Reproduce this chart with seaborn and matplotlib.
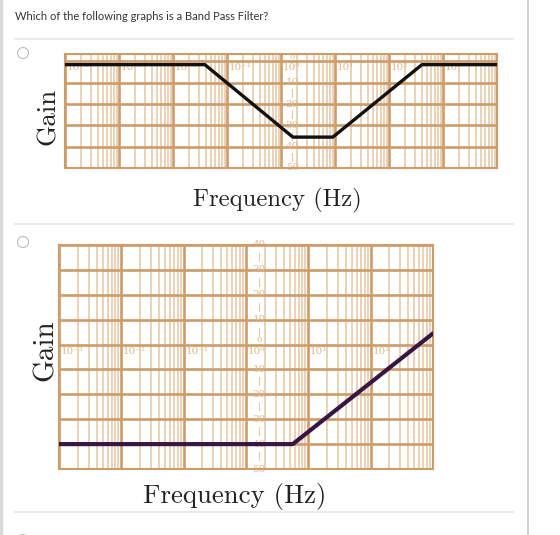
import numpy as np
import pandas as pd
import matplotlib
matplotlib.use("Agg")
import matplotlib.pyplot as plt
import seaborn as sns
from matplotlib.ticker import LogLocator, MultipleLocator, NullFormatter
from matplotlib.lines import Line2D
from matplotlib.patches import Ellipse

# ---------------- data ----------------
question = "Which of the following graphs is a Band Pass Filter?"

# option 1 (notch shaped response)
top_freq = [1e-4, 10 ** -1.41, 10 ** 0.22, 10 ** 0.96, 10 ** 2.61, 1e4]
top_gain = [-1.5, -1.5, -35.5, -35.5, -1.5, -1.5]
top_decades = [1e-4, 1e-3, 1e-2, 1e-1, 1e0, 1e1, 1e2, 1e3]
top_decade_labels = ["10⁻⁴", "10⁻³", "10⁻²", "10⁻¹", "10⁰", "10¹", "10²", "10³"]
top_db_ticks = [0, -10, -20, -30, -40, -50]

# option 2 (high pass shaped response)
bot_freq = [1e-3, 10 ** 0.75, 1e3]
bot_gain = [-40, -40, 4.5]
bot_decades = [1e-3, 1e-2, 1e-1, 1e0, 1e1, 1e2]
bot_decade_labels = ["10⁻³", "10⁻²", "10⁻¹", "10⁰", "10¹", "10²"]
bot_db_ticks = [40, 30, 20, 10, 0, -10, -20, -30, -40, -50]

y_label = "Gain"
x_label = "Frequency (Hz)"

# ---------------- style ----------------
sns.set_theme(style="white")
plt.rcParams["font.family"] = ["DejaVu Sans"]

MAJ = "#cd9c69"
MIN = "#e8cbad"
LBL = "#e2b68a"

W, H = 560, 535
fig = plt.figure(figsize=(W / 100, H / 100), dpi=100)
fig.patch.set_facecolor("white")


def fx(px):
    return px / W


def fy(py):
    return 1 - py / H


def make_axes(l, r, t, b):
    return fig.add_axes([fx(l), fy(b), fx(r - l), (b - t) / H])


def style_grid(ax, xlim, ylim, decades, dlabels, dbticks):
    ax.set_xscale("log")
    ax.set_xlim(*xlim)
    ax.set_ylim(*ylim)
    ax.xaxis.set_major_locator(LogLocator(base=10, numticks=30))
    ax.xaxis.set_minor_locator(LogLocator(base=10, subs=np.arange(2, 10), numticks=30))
    ax.xaxis.set_minor_formatter(NullFormatter())
    ax.yaxis.set_major_locator(MultipleLocator(10))
    ax.grid(which="minor", axis="x", color=MIN, lw=1.2)
    ax.grid(which="major", color=MAJ, lw=1.9)
    ax.set_axisbelow(True)
    ax.tick_params(which="both", length=0, labelbottom=False, labelleft=False)
    for s in ax.spines.values():
        s.set_color(MAJ)
        s.set_linewidth(1.5)
    for d, lab in zip(decades, dlabels):
        ax.text(d * 1.07, -0.8, lab, ha="left", va="top", color=LBL,
                fontsize=7.5, family="DejaVu Serif", zorder=1)
    xl = 10 ** 0.21
    for v in dbticks:
        if v == 0:
            ax.text(xl, 0.3, "0", ha="center", va="bottom", color=LBL,
                    fontsize=6, family="DejaVu Serif", zorder=1)
        else:
            ax.text(xl, v, f"{abs(v)}", ha="center", va="center", color=LBL,
                    fontsize=7.5, family="DejaVu Serif", zorder=1)
    for v in dbticks[:-1]:
        if v - 5 == -5:
            continue
        ax.text(xl, v - 5, "|", ha="center", va="center", color=LBL,
                fontsize=6, zorder=1)
    ax.set_xlabel("")
    ax.set_ylabel("")


# ---------- chart 1 ----------
ax1 = make_axes(65, 497, 54, 168)
style_grid(ax1, (1e-4, 1e4), (-50, 3.5), top_decades, top_decade_labels, top_db_ticks)
df1 = pd.DataFrame({"freq": top_freq, "gain": top_gain})
sns.lineplot(data=df1, x="freq", y="gain", ax=ax1, color="#111111", lw=2.4,
             sort=False, estimator=None, zorder=5)
ax1.set_xlabel("")
ax1.set_ylabel("")

# ---------- chart 2 ----------
ax2 = make_axes(59, 433, 245, 469)
style_grid(ax2, (1e-3, 1e3), (-50, 40), bot_decades, bot_decade_labels, bot_db_ticks)
df2 = pd.DataFrame({"freq": bot_freq, "gain": bot_gain})
sns.lineplot(data=df2, x="freq", y="gain", ax=ax2, color="#3a1542", lw=3.0,
             sort=False, estimator=None, zorder=5)
ax2.set_xlabel("")
ax2.set_ylabel("")

# ---------- axis titles ----------
fig.text(fx(48), fy(116), y_label, rotation=90, ha="center", va="center",
         family="cmr10", fontsize=19.5, color="#222222")
fig.text(fx(46), fy(350), y_label, rotation=90, ha="center", va="center",
         family="cmr10", fontsize=21, color="#222222")
fig.text(fx(277), fy(200), x_label, ha="center", va="center",
         family="cmr10", fontsize=17.8, color="#222222")
fig.text(fx(235), fy(497), x_label, ha="center", va="center",
         family="cmr10", fontsize=19.3, color="#222222")

# ---------- page chrome ----------
fig.text(fx(15), fy(16), question, ha="left", va="center",
         family="Lato", fontsize=8.0, color="#333333")
for yy in (39, 224, 512):
    fig.add_artist(Line2D([fx(15), fx(513)], [fy(yy), fy(yy)], color="#ebebeb", lw=1.5))
fig.add_artist(Line2D([fx(528), fx(528)], [0, 1], color="#c9c9c9", lw=1.2))
fig.add_artist(Line2D([fx(1), fx(1)], [0, 1], color="#dadada", lw=2.5))
for cy in (53, 242, 540):
    fig.add_artist(Ellipse((fx(23), fy(cy)), 11 / W, 11 / H, facecolor="white",
                           edgecolor="#bdbdbd", lw=0.8))

fig.savefig("out.png", dpi=100, facecolor="white")
